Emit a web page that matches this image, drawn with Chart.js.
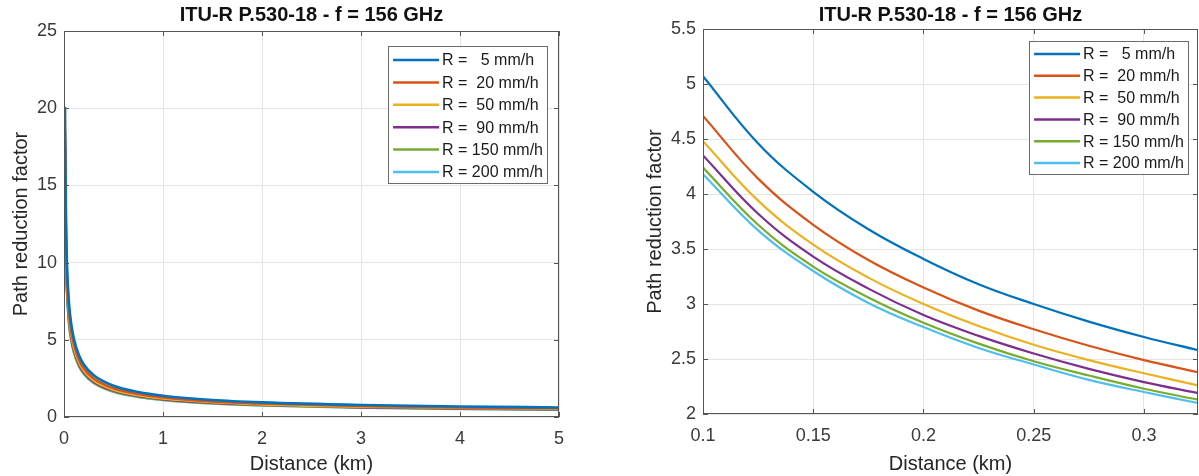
<!DOCTYPE html>
<html>
<head>
<meta charset="utf-8">
<script src="https://cdn.jsdelivr.net/npm/chart.js@4.4.1/dist/chart.umd.min.js"></script>
<style>
  html, body { margin: 0; padding: 0; background: #fff; }
  #wrap { position: relative; width: 1199px; height: 476px; overflow: hidden; }
  #leftChart { position: absolute; left: 0; top: 0; }
  #rightChart { position: absolute; left: 600px; top: 0; }
</style>
</head>
<body>
<div id="wrap">
  <canvas id="leftChart" width="600" height="476"></canvas>
  <canvas id="rightChart" width="599" height="476"></canvas>
</div>
<script>
const chartTitle = 'ITU-R P.530-18 - f = 156 GHz';
const rainLabels = ['R =   5 mm/h', 'R =  20 mm/h', 'R =  50 mm/h', 'R =  90 mm/h', 'R = 150 mm/h', 'R = 200 mm/h'];
const lineColors = ['#0072BD', '#D95319', '#EDB120', '#7E2F8E', '#77AC30', '#4DBEEE'];

// full range 0 - 5 km
const leftDistance = [0.01, 0.02, 0.03, 0.05, 0.075, 0.1, 0.15, 0.2, 0.3, 0.5, 0.75, 1, 1.5, 2, 3, 4, 5];
const leftR5   = [20.1, 12.8, 9.9, 7.4, 5.95, 5.07, 4.02, 3.40, 2.70, 2.02, 1.62, 1.38, 1.10, 0.95, 0.78, 0.68, 0.62];
const leftR20  = [18.5, 11.9, 9.2, 6.9, 5.52, 4.71, 3.72, 3.15, 2.49, 1.86, 1.49, 1.27, 1.01, 0.87, 0.71, 0.62, 0.57];
const leftR50  = [17.8, 11.3, 8.8, 6.6, 5.25, 4.48, 3.54, 3.00, 2.37, 1.77, 1.41, 1.20, 0.96, 0.82, 0.67, 0.59, 0.54];
const leftR90  = [17.3, 11.0, 8.5, 6.4, 5.10, 4.35, 3.43, 2.90, 2.29, 1.71, 1.36, 1.16, 0.92, 0.79, 0.64, 0.56, 0.51];
const leftR150 = [16.9, 10.7, 8.3, 6.2, 4.97, 4.24, 3.34, 2.83, 2.23, 1.66, 1.32, 1.12, 0.89, 0.76, 0.62, 0.54, 0.49];
const leftR200 = [16.7, 10.6, 8.2, 6.1, 4.90, 4.18, 3.30, 2.79, 2.20, 1.63, 1.30, 1.10, 0.87, 0.74, 0.60, 0.52, 0.47];

// zoom 0.1 - 0.32 km
const rightDistance = [0.1, 0.125, 0.15, 0.175, 0.2, 0.225, 0.25, 0.275, 0.3, 0.3245];
const rightR5   = [5.07, 4.46, 4.02, 3.68, 3.41, 3.18, 3.00, 2.84, 2.70, 2.58];
const rightR20  = [4.71, 4.14, 3.72, 3.40, 3.15, 2.94, 2.77, 2.62, 2.49, 2.38];
const rightR50  = [4.48, 3.94, 3.54, 3.24, 3.00, 2.80, 2.63, 2.49, 2.37, 2.26];
const rightR90  = [4.35, 3.82, 3.43, 3.14, 2.90, 2.71, 2.55, 2.41, 2.29, 2.19];
const rightR150 = [4.24, 3.72, 3.34, 3.06, 2.83, 2.64, 2.48, 2.35, 2.23, 2.13];
const rightR200 = [4.18, 3.67, 3.30, 3.01, 2.79, 2.60, 2.45, 2.31, 2.20, 2.10];

const xTicksLeft = [0, 1, 2, 3, 4, 5];
const yTicksLeft = [0, 5, 10, 15, 20, 25];
const xTicksRight = [0.1, 0.15, 0.2, 0.25, 0.3];
const yTicksRight = [2, 2.5, 3, 3.5, 4, 4.5, 5, 5.5];

const FONT = "'Liberation Sans', Arial, Helvetica, sans-serif";
const TICK_COLOR = '#3a3a3a';
const BOX_COLOR = '#555';

function makeDatasets(xs, series, width, smooth) {
  return series.map((ys, i) => ({
    label: rainLabels[i],
    data: xs.map((x, j) => ({ x: x, y: ys[j] })),
    borderColor: lineColors[i],
    backgroundColor: lineColors[i],
    borderWidth: width,
    pointRadius: 0,
    cubicInterpolationMode: smooth ? 'default' : 'monotone',
    tension: smooth ? 0.4 : 0,
    fill: false
  }));
}

// title, axes box with inward ticks, legend box inside plot
const framePlugin = {
  id: 'frame',
  afterDraw(chart, args, opts) {
    const { ctx, chartArea: a } = chart;
    const xs = chart.scales.x, ys = chart.scales.y;
    ctx.save();

    ctx.fillStyle = '#111';
    ctx.font = 'bold 20px ' + FONT;
    ctx.textAlign = 'center';
    ctx.textBaseline = 'middle';
    ctx.fillText(chartTitle, (a.left + a.right) / 2, opts.titleY);

    ctx.strokeStyle = BOX_COLOR;
    ctx.lineWidth = 1;
    ctx.beginPath();
    opts.xTicks.forEach(v => {
      const px = Math.round(xs.getPixelForValue(v)) + 0.5;
      ctx.moveTo(px, a.bottom); ctx.lineTo(px, a.bottom - 5);
      ctx.moveTo(px, a.top); ctx.lineTo(px, a.top + 5);
    });
    opts.yTicks.forEach(v => {
      const py = Math.round(ys.getPixelForValue(v)) + 0.5;
      ctx.moveTo(a.left, py); ctx.lineTo(a.left + 5, py);
      ctx.moveTo(a.right, py); ctx.lineTo(a.right - 5, py);
    });
    ctx.stroke();
    ctx.strokeRect(a.left + 0.5, a.top + 0.5, a.right - a.left - 1, a.bottom - a.top - 1);

    // legend
    ctx.font = '16px ' + FONT;
    const sets = chart.data.datasets;
    let tw = 0;
    sets.forEach(d => { tw = Math.max(tw, ctx.measureText(d.label).width); });
    const w = 5 + 46 + 3 + tw + 4;
    const h = opts.firstRow + (sets.length - 1) * opts.rowH + 11;
    const bx = a.right - opts.legendRight - w;
    const by = a.top + opts.legendTop;
    ctx.fillStyle = '#fff';
    ctx.fillRect(bx, by, w, h);
    ctx.strokeStyle = '#6b6b6b';
    ctx.strokeRect(Math.round(bx) + 0.5, Math.round(by) + 0.5, Math.round(w), Math.round(h));
    ctx.textAlign = 'left';
    sets.forEach((d, i) => {
      const cy = by + opts.firstRow + i * opts.rowH;
      ctx.strokeStyle = d.borderColor;
      ctx.lineWidth = 2.5;
      ctx.beginPath();
      ctx.moveTo(bx + 5, cy); ctx.lineTo(bx + 51, cy);
      ctx.stroke();
      ctx.fillStyle = '#1a1a1a';
      ctx.fillText(d.label, bx + 54, cy + 1);
    });
    ctx.restore();
  }
};

function makeOptions(cfg) {
  return {
    responsive: false,
    animation: false,
    devicePixelRatio: 1,
    layout: { padding: { left: 0, top: cfg.top, right: cfg.right, bottom: 0 } },
    plugins: {
      legend: { display: false },
      title: { display: false },
      tooltip: { enabled: false },
      frame: cfg.frame
    },
    scales: {
      x: {
        type: 'linear',
        min: cfg.xMin, max: cfg.xMax,
        afterFit: s => { s.height = cfg.xHeight; },
        afterBuildTicks: s => { s.ticks = cfg.xTicks.map(v => ({ value: v })); },
        grid: { color: '#e4e4e4', drawTicks: false },
        border: { display: false },
        ticks: {
          color: TICK_COLOR, padding: 11, maxRotation: 0, autoSkip: false,
          font: { family: FONT, size: 18 },
          callback: v => String(+v.toFixed(2))
        },
        title: {
          display: true, text: 'Distance (km)', color: '#262626',
          font: { family: FONT, size: 20 }, padding: { top: 0, bottom: 0 }
        }
      },
      y: {
        type: 'linear',
        min: cfg.yMin, max: cfg.yMax,
        afterFit: s => { s.width = cfg.yWidth; },
        afterBuildTicks: s => { s.ticks = cfg.yTicks.map(v => ({ value: v })); },
        grid: { color: '#e4e4e4', drawTicks: false },
        border: { display: false },
        ticks: {
          color: TICK_COLOR, padding: 7,
          font: { family: FONT, size: 18 },
          callback: v => String(+v.toFixed(2))
        },
        title: {
          display: true, text: 'Path reduction factor', color: '#262626',
          font: { family: FONT, size: 20 }, padding: { top: cfg.yTitlePad, bottom: 0 }
        }
      }
    }
  };
}

new Chart(document.getElementById('leftChart'), {
  type: 'line',
  data: { datasets: makeDatasets(leftDistance, [leftR5, leftR20, leftR50, leftR90, leftR150, leftR200], 2.6, false) },
  options: makeOptions({
    top: 31, right: 41, xHeight: 59, yWidth: 64, yTitlePad: 9,
    xMin: 0, xMax: 5, yMin: 0, yMax: 25,
    xTicks: xTicksLeft, yTicks: yTicksLeft,
    frame: { titleY: 15, xTicks: xTicksLeft, yTicks: yTicksLeft, legendRight: 12, legendTop: 15, firstRow: 14, rowH: 22.4 }
  }),
  plugins: [framePlugin]
});

new Chart(document.getElementById('rightChart'), {
  type: 'line',
  data: { datasets: makeDatasets(rightDistance, [rightR5, rightR20, rightR50, rightR90, rightR150, rightR200], 2.2, true) },
  options: makeOptions({
    top: 29, right: 1, xHeight: 62, yWidth: 103, yTitlePad: 43,
    xMin: 0.1, xMax: 0.3245, yMin: 2, yMax: 5.5,
    xTicks: xTicksRight, yTicks: yTicksRight,
    frame: { titleY: 15, xTicks: xTicksRight, yTicks: yTicksRight, legendRight: 10, legendTop: 12, firstRow: 13, rowH: 21.8 }
  }),
  plugins: [framePlugin]
});
</script>
</body>
</html>
